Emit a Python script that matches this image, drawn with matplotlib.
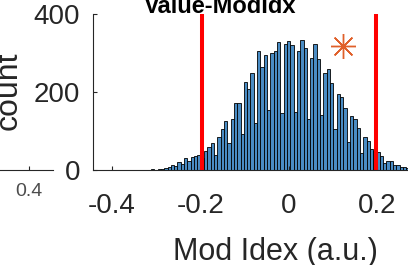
import numpy as np
import matplotlib
matplotlib.use("Agg")
import matplotlib.pyplot as plt

plt.rcParams['font.family'] = ['Liberation Sans', 'DejaVu Sans']

# histogram of modulation index (bin counts)
bin_left = -0.432
bin_width = 0.0075
counts = [1, 0, 0, 1, 0, 0, 1, 1, 0, 1, 0, 0, 1, 1, 0, 1, 2, 1,
          2, 3, 5, 8, 13, 10, 20, 15, 30, 22, 34, 37, 38, 30, 50, 60, 70, 38,
          84, 104, 126, 68, 130, 171, 171, 92, 226, 207, 248, 121, 306, 265,
          295, 154, 301, 306, 329, 147, 323, 331, 320, 150, 306, 333, 312, 132,
          286, 323, 284, 141, 248, 258, 224, 104, 195, 188, 158, 73, 138, 132,
          107, 44, 85, 75, 53, 50, 47, 36, 18, 24, 24, 13, 13, 8, 8, 6,
          5, 4, 3, 2, 2, 1]
thresholds = [-0.197, 0.196]
star_x, star_y = 0.122, 318
xticks = [-0.4, -0.2, 0, 0.2]
yticks = [0, 200, 400]

W, H = 408, 265
def fx(px):
    return px / W
def fy(py):
    return 1 - py / H

gray = (0.15, 0.15, 0.15)
fig = plt.figure(figsize=(W / 100, H / 100), dpi=100)

# neighbouring panel, mostly cut off on the left
ax2 = fig.add_axes([fx(-187), fy(170), fx(53) - fx(-187), fy(14) - fy(170)])
ax2.set_xlim(-0.5, 0.5)
ax2.set_ylim(0, 400)
for s in ['top', 'right', 'left']:
    ax2.spines[s].set_visible(False)
ax2.spines['bottom'].set_color(gray)
ax2.spines['bottom'].set_linewidth(0.8)
ax2.set_yticks([])
ax2.set_xticks([0.4])
ax2.set_xticklabels(['0.4'])
ax2.tick_params(axis='x', direction='in', length=3, labelsize=14, pad=9.5,
                colors=gray, labelcolor=(0.3, 0.3, 0.3))
ax2.patch.set_alpha(0)

ax = fig.add_axes([fx(93), fy(170), fx(457) - fx(93), fy(14) - fy(170)])
edges = bin_left + bin_width * np.arange(len(counts) + 1)
ax.bar(edges[:-1], counts, width=bin_width, align='edge',
       color='#4a8cc4', edgecolor='black', linewidth=0.6)
ax.vlines(thresholds, 0, 400, color='red', linewidth=2.9)
ax.plot([star_x], [star_y], marker=(8, 2, 0), markersize=18,
        color='#E0602A', markeredgewidth=1.0, linestyle='none')

ax.set_xlim(-0.443, 0.38)
ax.set_ylim(0, 400)
ax.set_xticks(xticks)
ax.set_xticklabels(['-0.4', '-0.2', '0', '0.2'])
ax.set_yticks(yticks)
for s in ['top', 'right']:
    ax.spines[s].set_visible(False)
for s in ['left', 'bottom']:
    ax.spines[s].set_color(gray)
    ax.spines[s].set_linewidth(0.8)
ax.tick_params(axis='x', direction='in', length=3, labelsize=20, pad=16.5,
               colors=gray)
ax.tick_params(axis='y', direction='in', length=3, labelsize=20, pad=9.4,
               colors=gray)
ax.patch.set_alpha(0)

fig.text(fx(275), fy(237), 'Mod Idex (a.u.)', fontsize=22, color=gray,
         ha='center', va='top')
fig.text(fx(17), fy(91), 'count', fontsize=23, color=gray, rotation=90,
         rotation_mode='anchor', ha='center', va='baseline')
fig.text(fx(220), fy(13), 'Value-ModIdx', fontsize=17, fontweight='bold',
         color='black', ha='center', va='baseline')

fig.savefig('out.png', dpi=100)
